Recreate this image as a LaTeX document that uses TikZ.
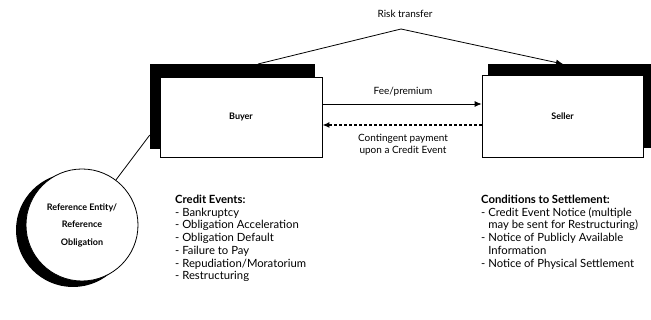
\documentclass[tikz,border=0pt]{standalone}
\usepackage{fontspec}
\setmainfont{Lato}
\usetikzlibrary{arrows.meta}
\begin{document}
\begin{tikzpicture}[x=1pt,y=-1pt,
  shadowbox/.style={draw=black,fill=black,minimum width=#1,inner sep=0pt},
  whitebox/.style={draw=black,fill=white,line width=0.8pt,inner sep=0pt,font=\fontsize{9}{11}\selectfont\bfseries},
  lbl/.style={font=\fontsize{10}{12.5}\selectfont,inner sep=0pt,align=center},
  listtxt/.style={font=\fontsize{11.3}{12.7}\selectfont,inner sep=0pt,align=left,anchor=north west},
  arr/.style={-{Latex[length=7pt,width=6pt]},line width=0.8pt},
  darr/.style={-{Latex[length=7pt,width=6pt]},line width=1.6pt,dash pattern=on 3pt off 2pt}
]
\useasboundingbox (0,0) rectangle (651,320);
% shadows
\node[shadowbox=164pt,minimum height=84pt] (buyersh) at (232,106) {};
\node[shadowbox=163pt,minimum height=83pt] (sellersh) at (569.5,105.5) {};
% boxes
\node[whitebox,minimum width=162pt,minimum height=80pt] (buyer) at (241,117) {Buyer};
\node[whitebox,minimum width=161pt,minimum height=82pt] (seller) at (562.5,116) {Seller};
% risk transfer
\coordinate (rt1) at (258,64);
\coordinate (peak) at (401,29);
\coordinate (rt2) at (563,64);
\draw[line width=0.8pt] (rt1) -- (peak);
\draw[arr] (peak) -- (rt2);
\node[lbl] (rtl) at (405,14) {Risk transfer};
% fee / contingent
\coordinate (f) at (0,104);
\coordinate (c) at (0,125);
\draw[arr] (buyer.east |- f) -- (seller.west |- f);
\draw[darr] (seller.west |- c) -- (buyer.east |- c);
\node[lbl] (feel) at (403,92) {Fee/premium};
\node[lbl] (contl) at (403,144.5) {Contingent payment\\upon a Credit Event};
% reference entity
\fill[black] (73,230) circle (57pt);
\node[circle,draw=black,fill=white,line width=0.8pt,minimum size=112pt,inner sep=0pt,align=center,font=\fontsize{9}{17.5}\selectfont\bfseries] (ref) at (82,225) {Reference Entity/\\Reference\\Obligation};
\coordinate (lk) at (150,135);
\draw[line width=0.8pt] (ref) -- (buyersh.west |- lk);
% lists
\node[listtxt] (ce) at (175,195) {\textbf{Credit Events:}\\
- Bankruptcy\\
- Obligation Acceleration\\
- Obligation Default\\
- Failure to Pay\\
- Repudiation/Moratorium\\
- Restructuring};
\node[listtxt] (cs) at (481,195) {\textbf{Conditions to Settlement:}\\
- Credit Event Notice (multiple\\
\phantom{- }may be sent for Restructuring)\\
- Notice of Publicly Available\\
\phantom{- }Information\\
- Notice of Physical Settlement};
\end{tikzpicture}
\end{document}
